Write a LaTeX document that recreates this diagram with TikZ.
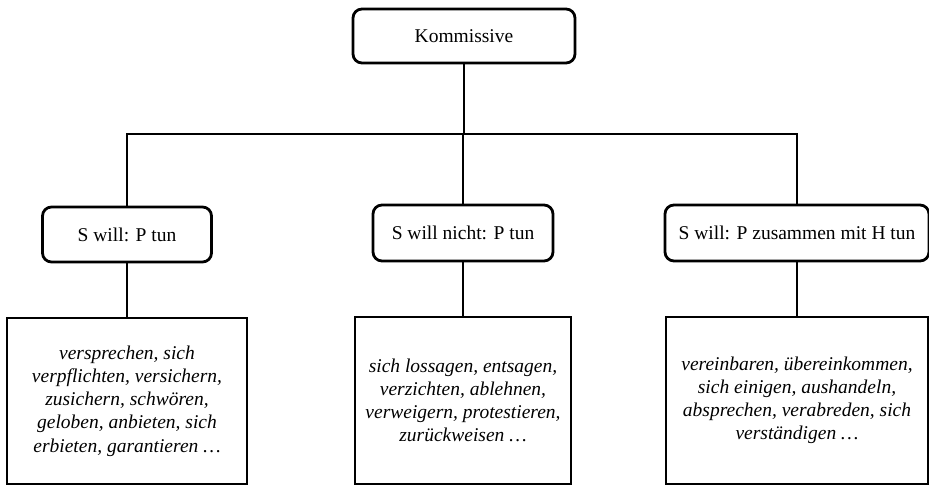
\documentclass[tikz,border=0pt]{standalone}
\usepackage{fontspec}
\setmainfont{Liberation Serif}
\begin{document}
\begin{tikzpicture}[x=1pt,y=-1pt,
  line width=2.8pt,
  head/.style={draw, rounded corners=9pt, align=center, inner sep=0pt,
    font=\fontsize{19.5}{23}\selectfont},
  list/.style={draw, align=center, inner sep=0pt,
    font=\fontsize{19.5}{23.2}\selectfont\itshape}]
\useasboundingbox (0,0) rectangle (929,488);

% top category
\node[head, minimum width=222pt, minimum height=54pt] (top) at (464,36) {Kommissive};

% sub-categories
\node[head, minimum width=169pt, minimum height=55pt] (lm) at (127,234.5) {S will: P tun};
\node[head, minimum width=180pt, minimum height=56pt] (mm) at (463,233) {S will nicht: P tun};
\node[head, minimum width=264pt, minimum height=56pt] (rm) at (797,233) {S will: P zusammen mit H tun};

% verb lists
\node[list, minimum width=240pt, minimum height=166pt] (lb) at (127,401)
  {versprechen, sich\\verpflichten, versichern,\\zusichern, schwören,\\geloben, anbieten, sich\\erbieten, garantieren \dots};
\node[list, minimum width=216pt, minimum height=167pt] (mb) at (463,400.5)
  {sich lossagen, entsagen,\\verzichten, ablehnen,\\verweigern, protestieren,\\zurückweisen \dots};
\node[list, minimum width=262pt, minimum height=167pt] (rb) at (797,400.5)
  {vereinbaren, übereinkommen,\\sich einigen, aushandeln,\\absprechen, verabreden, sich\\verständigen \dots};

% branching lines
\coordinate (bus) at (0,134);
\draw (top.south) -- (top.south |- bus);
\draw (lm.north) -- (lm.north |- bus) -- (rm.north |- bus) -- (rm.north);
\draw (mm.north) -- (mm.north |- bus);
\draw (lm.south) -- (lm.south |- lb.north);
\draw (mm.south) -- (mm.south |- mb.north);
\draw (rm.south) -- (rm.south |- rb.north);
\end{tikzpicture}
\end{document}
